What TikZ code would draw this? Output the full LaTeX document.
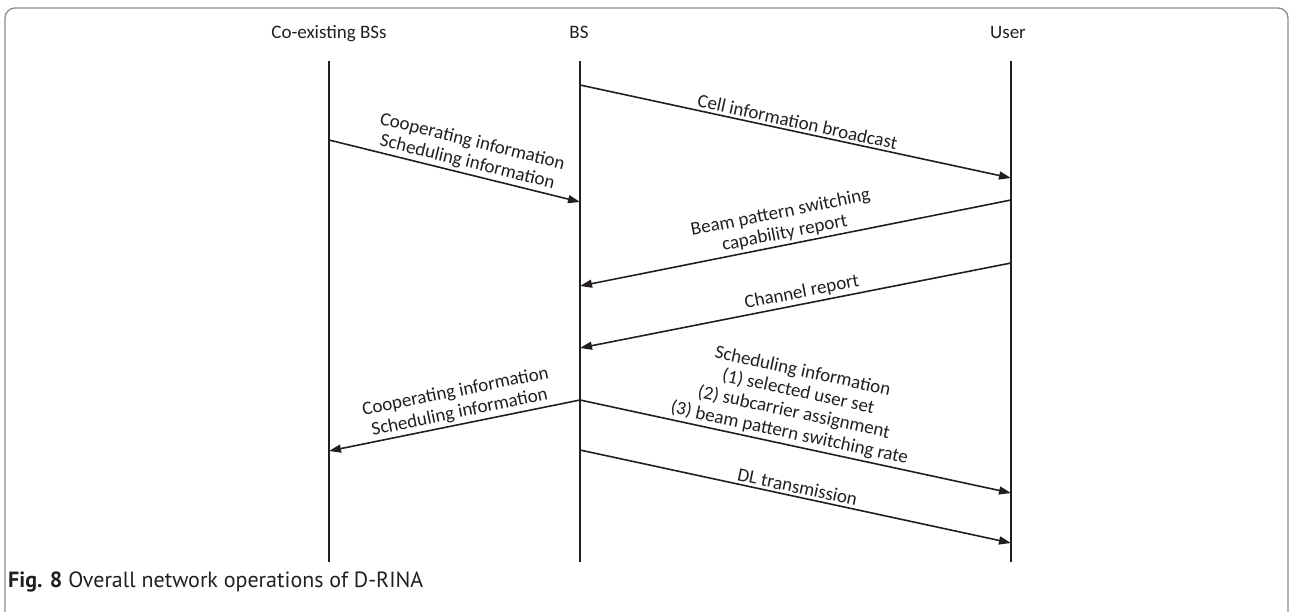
\documentclass[tikz,border=0pt]{standalone}
\usepackage{fontspec}
\setmainfont{Carlito}
\newfontfamily\capfont{PT Sans}
\usetikzlibrary{arrows.meta}
\definecolor{ink}{HTML}{231F20}
\definecolor{framegray}{HTML}{8C8C8C}
\begin{document}
\begin{tikzpicture}[x=1pt,y=-1pt,
  life/.style={line width=1.8pt, draw=ink},
  msg/.style={line width=1.6pt, draw=ink, -{Triangle[length=12pt,width=8pt]}},
  lbl/.style={sloped, above, text=ink, font=\fontsize{19}{21}\selectfont, align=center, inner sep=2.5pt},
  hdr/.style={text=ink, font=\fontsize{19}{22}\selectfont, anchor=base},
]
\useasboundingbox (0,0) rectangle (1291,611);
\draw[framegray, line width=1.3pt, rounded corners=10pt] (5,640) -- (5,8) -- (1288,8) -- (1288,640);

% headers
\node[hdr] (hco) at (329,38) {Co-existing BSs};
\node[hdr] (hbs) at (579,38) {BS};
\node[hdr] (hus) at (1008,38) {User};

% lifelines
\coordinate (cotop) at (329,61);  \coordinate (cobot) at (329,562);
\coordinate (bstop) at (580,61);  \coordinate (bsbot) at (580,562);
\coordinate (ustop) at (1011,61); \coordinate (usbot) at (1011,562);
\draw[life] (cotop) -- (cobot);
\draw[life] (bstop) -- (bsbot);
\draw[life] (ustop) -- (usbot);

% message end points
\coordinate (b1) at (580,85);   \coordinate (u1) at (1011,178);
\coordinate (c2) at (329,140);  \coordinate (b2) at (580,202);
\coordinate (u3) at (1011,200); \coordinate (b3) at (580,286);
\coordinate (u4) at (1011,263); \coordinate (b4) at (580,348);
\coordinate (b5) at (580,400);  \coordinate (c5) at (329,451);
\coordinate (b6) at (580,400);  \coordinate (u6) at (1011,493);
\coordinate (b7) at (580,450);  \coordinate (u7) at (1011,543);

\draw[msg] (b1) -- node[lbl, pos=0.5] {Cell information broadcast} (u1);
\draw[msg] (c2) -- node[lbl, pos=0.54] {Cooperating information\\Scheduling information} (b2);
\draw[msg] (u3) -- node[lbl, pos=0.52] {Beam pattern switching\\capability report} (b3);
\draw[msg] (u4) -- node[lbl, pos=0.48] {Channel report} (b4);
\draw[msg] (b5) -- node[lbl, pos=0.47] {Cooperating information\\Scheduling information} (c5);
\draw[msg] (b6) -- node[lbl, pos=0.48] {Scheduling information\\(1) selected user set\\(2) subcarrier assignment\\(3) beam pattern switching rate} (u6);
\draw[msg] (b7) -- node[lbl, pos=0.5] {DL transmission} (u7);

% caption
\node[anchor=base west, inner sep=0pt, text=ink, font=\capfont\fontsize{22}{26}\selectfont] (cap) at (8,587) {\textbf{Fig. 8} Overall network operations of D-RINA};
\end{tikzpicture}
\end{document}
